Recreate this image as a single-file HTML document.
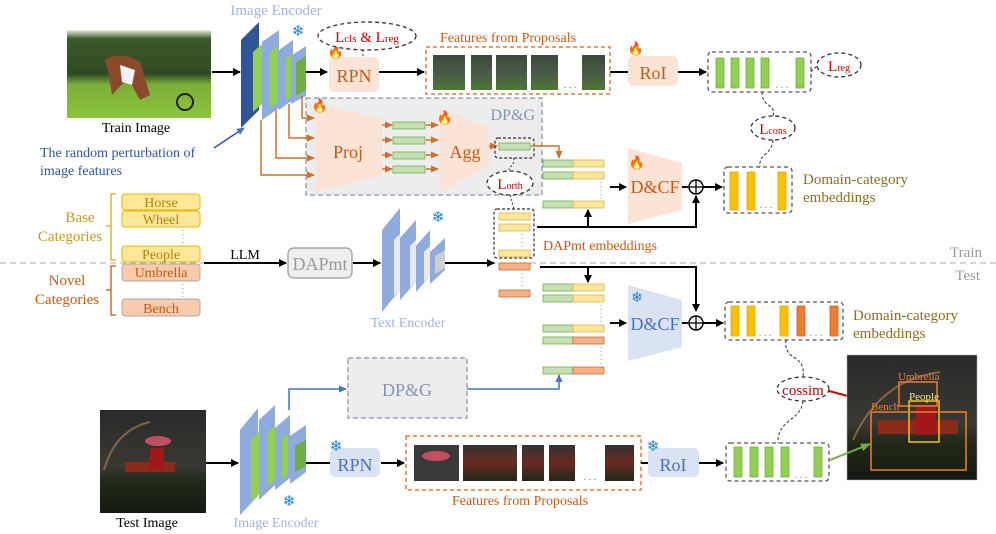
<!DOCTYPE html>
<html><head><meta charset="utf-8"><style>
html,body{margin:0;padding:0;background:#fff}
svg{display:block}
text{font-family:"Liberation Serif",serif}
</style></head><body>
<svg width="996" height="534" viewBox="0 0 996 534" xmlns="http://www.w3.org/2000/svg">
<defs>
<marker id="ab" markerWidth="8" markerHeight="8" refX="7" refY="4" orient="auto" markerUnits="userSpaceOnUse"><path d="M0,0 L8,4 L0,8 Z" fill="#000"/></marker>
<marker id="ao" markerWidth="8" markerHeight="7" refX="7" refY="3.5" orient="auto" markerUnits="userSpaceOnUse"><path d="M0,0 L8,3.5 L0,7 Z" fill="#d0702a"/></marker>
<marker id="abl" markerWidth="8" markerHeight="7" refX="7" refY="3.5" orient="auto" markerUnits="userSpaceOnUse"><path d="M0,0 L8,3.5 L0,7 Z" fill="#4472c4"/></marker>
<marker id="ar" markerWidth="10" markerHeight="8" refX="9" refY="4" orient="auto" markerUnits="userSpaceOnUse"><path d="M0,0 L10,4 L0,8 Z" fill="#d00000"/></marker>
<marker id="ag" markerWidth="10" markerHeight="8" refX="9" refY="4" orient="auto" markerUnits="userSpaceOnUse"><path d="M0,0 L10,4 L0,8 Z" fill="#70ad47"/></marker>
<linearGradient id="train" x1="0" y1="0" x2="0" y2="1"><stop offset="0" stop-color="#e8f0e0"/><stop offset="0.1" stop-color="#3c5a2a"/><stop offset="0.5" stop-color="#2f4a22"/><stop offset="0.62" stop-color="#7cae3a"/><stop offset="1" stop-color="#8cc43c"/></linearGradient>
<linearGradient id="test" x1="0" y1="0" x2="0" y2="1"><stop offset="0" stop-color="#2a2a2a"/><stop offset="0.55" stop-color="#3a3832"/><stop offset="0.7" stop-color="#1f2a18"/><stop offset="1" stop-color="#141a10"/></linearGradient>
<linearGradient id="thumb1" x1="0" y1="0" x2="0" y2="1"><stop offset="0" stop-color="#3a4a3a"/><stop offset="0.6" stop-color="#4b5e48"/><stop offset="1" stop-color="#4c7a30"/></linearGradient>
<linearGradient id="thumb2" x1="0" y1="0" x2="0" y2="1"><stop offset="0" stop-color="#333"/><stop offset="0.5" stop-color="#6a2a20"/><stop offset="1" stop-color="#202818"/></linearGradient>
</defs>

<!-- ============ TOP: TRAIN ============ -->
<rect x="67" y="30" width="144" height="88" fill="url(#train)"/>
<path d="M105,60 Q120,50 140,62 L150,95 L140,100 L128,78 L112,95 L108,70 Z" fill="#8a4a2a"/>
<path d="M120,65 L135,70 L132,85 L122,82 Z" fill="#f2f2f2"/>
<circle cx="185" cy="102" r="8" fill="none" stroke="#222" stroke-width="2"/>
<text x="136" y="132" font-size="14" text-anchor="middle" fill="#000">Train Image</text>
<text x="40" y="157" font-size="14" fill="#2f55a0">The random perturbation of</text>
<text x="40" y="175" font-size="14" fill="#2f55a0">image features</text>
<line x1="214" y1="148" x2="244" y2="128" stroke="#2f55a0" stroke-width="1.5" marker-end="url(#abl)"/>

<line x1="212" y1="72" x2="240" y2="72" stroke="#000" stroke-width="2" marker-end="url(#ab)"/>
<!-- top image encoder -->
<text x="276" y="15" font-size="15" fill="#9fb3e0" text-anchor="middle">Image Encoder</text>
<polygon points="241,40 259,22 259,110 241,128" fill="#2f5597"/>
<polygon points="253,52 262,44 262,104 253,112" fill="#92d050"/>
<polygon points="262,42 279,30 279,108 262,120" fill="#8faadc"/>
<polygon points="270,52 278,46 278,102 270,108" fill="#92d050"/>
<polygon points="279,50 293,40 293,100 279,110" fill="#8faadc"/>
<polygon points="286,58 292,54 292,96 286,100" fill="#92d050"/>
<polygon points="291,56 306,46 306,96 291,104" fill="#8faadc"/>
<polygon points="296,62 306,56 306,90 296,96" fill="#70ad47"/>
<text x="298" y="36" font-size="15" fill="#1a7fd4" text-anchor="middle">❄</text>

<line x1="306" y1="72" x2="327" y2="72" stroke="#000" stroke-width="2" marker-end="url(#ab)"/>
<rect x="329" y="57" width="50" height="35" rx="5" fill="#fbe3d6"/>
<text x="354" y="82" font-size="18" fill="#c55a11" text-anchor="middle">RPN</text>
<text x="336" y="56" font-size="13" fill="#d00000" text-anchor="middle">🔥</text>
<ellipse cx="367" cy="36" rx="49" ry="14" fill="#fff" stroke="#333" stroke-dasharray="4,3" stroke-width="1.3"/>
<line x1="363" y1="50" x2="363" y2="56" stroke="#333" stroke-dasharray="2,2"/>
<text x="367" y="42" font-size="15" fill="#c00000" text-anchor="middle">L<tspan font-size="11">cls</tspan> &amp; L<tspan font-size="11">reg</tspan></text>
<line x1="379" y1="72" x2="424" y2="72" stroke="#000" stroke-width="2" marker-end="url(#ab)"/>

<text x="508" y="42" font-size="14" fill="#c55a11" text-anchor="middle">Features from Proposals</text>
<rect x="426" y="47" width="184" height="47" fill="none" stroke="#e07b39" stroke-dasharray="4,3" stroke-width="1.5"/>
<rect x="433" y="55" width="32" height="35" fill="url(#thumb1)"/>
<rect x="471" y="55" width="21" height="35" fill="url(#thumb1)"/>
<rect x="496" y="55" width="31" height="35" fill="url(#thumb1)"/>
<rect x="531" y="55" width="27" height="35" fill="url(#thumb1)"/>
<text x="570" y="88" font-size="10" fill="#777" text-anchor="middle">. . .</text>
<rect x="582" y="55" width="23" height="35" fill="url(#thumb1)"/>

<line x1="610" y1="72" x2="628" y2="72" stroke="#000" stroke-width="2"/>
<rect x="628" y="56" width="50" height="30" rx="5" fill="#fbe3d6"/>
<text x="653" y="79" font-size="18" fill="#c55a11" text-anchor="middle">RoI</text>
<text x="636" y="53" font-size="13" fill="#d00000" text-anchor="middle">🔥</text>
<line x1="678" y1="72" x2="706" y2="72" stroke="#000" stroke-width="2" marker-end="url(#ab)"/>

<rect x="708" y="52" width="103" height="40" rx="4" fill="none" stroke="#555" stroke-dasharray="4,3" stroke-width="1.3"/>
<g fill="#92d050" stroke="#70ad47" stroke-width="0.8">
<rect x="716" y="58" width="8" height="30"/><rect x="731" y="58" width="8" height="30"/><rect x="746" y="58" width="8" height="30"/><rect x="761" y="58" width="8" height="30"/><rect x="796" y="58" width="8" height="30"/>
</g>
<text x="782" y="88" font-size="10" fill="#888" text-anchor="middle">. . .</text>
<path d="M811,72 Q815,66 822,65" fill="none" stroke="#333" stroke-dasharray="3,2"/>
<ellipse cx="839" cy="65" rx="22" ry="12" fill="#fff" stroke="#333" stroke-dasharray="4,3" stroke-width="1.3"/>
<text x="839" y="71" font-size="15" fill="#c00000" text-anchor="middle">L<tspan font-size="10">reg</tspan></text>
<path d="M762,92 Q762,102 770,106 Q775,110 773,116" fill="none" stroke="#333" stroke-dasharray="3,2"/>
<ellipse cx="773" cy="128" rx="22" ry="12" fill="#fff" stroke="#333" stroke-dasharray="4,3" stroke-width="1.3"/>
<text x="773" y="134" font-size="15" fill="#c00000" text-anchor="middle">L<tspan font-size="10">cons</tspan></text>
<path d="M773,140 Q772,150 764,155 Q759,160 760,167" fill="none" stroke="#333" stroke-dasharray="3,2"/>

<rect x="724" y="167" width="68" height="46" rx="4" fill="none" stroke="#555" stroke-dasharray="4,3" stroke-width="1.3"/>
<g fill="#ffc000" stroke="#e0a800" stroke-width="0.8">
<rect x="730" y="172" width="8" height="38"/><rect x="747" y="172" width="8" height="38"/><rect x="778" y="172" width="8" height="38"/>
</g>
<text x="766" y="208" font-size="10" fill="#888" text-anchor="middle">. . .</text>
<text x="803" y="184" font-size="15" fill="#8c6d1f">Domain-category</text>
<text x="803" y="202" font-size="15" fill="#8c6d1f">embeddings</text>

<!-- DP&G top -->
<rect x="306" y="98" width="236" height="97" fill="#ededed" stroke="#8497b0" stroke-dasharray="5,3" stroke-width="1.3"/>
<text x="535" y="120" font-size="16" fill="#8497b0" text-anchor="end">DP&amp;G</text>
<polygon points="316,104 382,118 382,175 316,192" fill="#fbe3d6"/>
<text x="348" y="158" font-size="18" fill="#c55a11" text-anchor="middle">Proj</text>
<text x="320" y="110" font-size="13" fill="#d00000" text-anchor="middle">🔥</text>
<g fill="none" stroke="#d0702a" stroke-width="1.5">
<path d="M302,96 V118 H314" marker-end="url(#ao)"/>
<path d="M289,104 V138 H314" marker-end="url(#ao)"/>
<path d="M276,110 V158 H314" marker-end="url(#ao)"/>
<path d="M261,120 V175 H314" marker-end="url(#ao)"/>
</g>
<g stroke="#d0702a" stroke-width="1.5">
<line x1="382" y1="125" x2="392" y2="125" marker-end="url(#ao)"/>
<line x1="382" y1="140" x2="392" y2="140" marker-end="url(#ao)"/>
<line x1="382" y1="155" x2="392" y2="155" marker-end="url(#ao)"/>
<line x1="382" y1="169" x2="392" y2="169" marker-end="url(#ao)"/>
<line x1="426" y1="125" x2="438" y2="125" marker-end="url(#ao)"/>
<line x1="426" y1="140" x2="438" y2="140" marker-end="url(#ao)"/>
<line x1="426" y1="155" x2="438" y2="155" marker-end="url(#ao)"/>
<line x1="426" y1="169" x2="438" y2="169" marker-end="url(#ao)"/>
</g>
<g fill="#c5e0b4" stroke="#70ad47" stroke-width="0.8">
<rect x="393" y="122" width="32" height="7"/><rect x="393" y="137" width="32" height="7"/><rect x="393" y="152" width="32" height="7"/><rect x="393" y="166" width="32" height="7"/>
</g>
<polygon points="440,109 489,127 489,165 440,193" fill="#fbe3d6"/>
<text x="465" y="158" font-size="18" fill="#c55a11" text-anchor="middle">Agg</text>
<text x="445" y="122" font-size="13" fill="#d00000" text-anchor="middle">🔥</text>
<line x1="489" y1="146" x2="497" y2="146" stroke="#d0702a" stroke-width="1.5" marker-end="url(#ao)"/>
<rect x="495" y="138" width="39" height="20" rx="3" fill="none" stroke="#333" stroke-dasharray="3,2" stroke-width="1.2"/>
<rect x="499" y="143" width="31" height="7" fill="#c5e0b4" stroke="#70ad47" stroke-width="0.8"/>
<path d="M531,146 H559 V158" fill="none" stroke="#d0702a" stroke-width="1.5" marker-end="url(#ao)"/>
<path d="M514,158 Q514,165 510,167 Q508,169 510,171" fill="none" stroke="#333" stroke-dasharray="2,2"/>
<ellipse cx="510" cy="183" rx="23" ry="12" fill="#fff" stroke="#333" stroke-dasharray="4,3" stroke-width="1.3"/>
<text x="510" y="189" font-size="15" fill="#c00000" text-anchor="middle">L<tspan font-size="10">orth</tspan></text>
<path d="M510,195 Q512,202 514,209" fill="none" stroke="#333" stroke-dasharray="2,2"/>

<!-- concat bars top -->
<g stroke-width="0.8">
<rect x="543" y="160" width="30" height="7" fill="#c5e0b4" stroke="#70ad47"/><rect x="573" y="160" width="31" height="7" fill="#ffe699" stroke="#d6b656"/>
<rect x="543" y="172" width="30" height="7" fill="#c5e0b4" stroke="#70ad47"/><rect x="573" y="172" width="31" height="7" fill="#ffe699" stroke="#d6b656"/>
<rect x="543" y="201" width="30" height="7" fill="#c5e0b4" stroke="#70ad47"/><rect x="573" y="201" width="31" height="7" fill="#ffe699" stroke="#d6b656"/>
</g>
<line x1="601" y1="182" x2="601" y2="199" stroke="#999" stroke-dasharray="1,3"/>
<line x1="610" y1="187" x2="626" y2="187" stroke="#000" stroke-width="2" marker-end="url(#ab)"/>
<polygon points="628,148 682,163 682,210 628,224" fill="#fbe3d6"/>
<text x="655" y="193" font-size="18" fill="#c55a11" text-anchor="middle">D&amp;CF</text>
<text x="637" y="167" font-size="13" fill="#d00000" text-anchor="middle">🔥</text>
<line x1="682" y1="187" x2="688" y2="187" stroke="#000" stroke-width="2"/>
<circle cx="696" cy="187" r="7" fill="#fff" stroke="#000" stroke-width="1.5"/>
<line x1="689" y1="187" x2="703" y2="187" stroke="#000" stroke-width="1.3"/><line x1="696" y1="180" x2="696" y2="194" stroke="#000" stroke-width="1.3"/>
<line x1="703" y1="187" x2="722" y2="187" stroke="#000" stroke-width="2" marker-end="url(#ab)"/>

<!-- DAPmt embeddings -->
<rect x="494" y="209" width="40" height="49" rx="3" fill="none" stroke="#333" stroke-dasharray="3,2" stroke-width="1.2"/>
<g fill="#ffe699" stroke="#d6b656" stroke-width="0.8">
<rect x="499" y="213" width="31" height="7"/><rect x="499" y="224" width="31" height="7"/><rect x="499" y="250" width="31" height="7"/>
</g>
<line x1="522" y1="234" x2="522" y2="248" stroke="#999" stroke-dasharray="1,3"/>
<text x="543" y="250" font-size="14" fill="#c55a11">DAPmt embeddings</text>
<path d="M537,227 H696 V196" fill="none" stroke="#000" stroke-width="2" marker-end="url(#ab)"/>
<line x1="588" y1="227" x2="588" y2="210" stroke="#000" stroke-width="2" marker-end="url(#ab)"/>

<!-- Train/Test divider -->
<line x1="0" y1="263" x2="996" y2="263" stroke="#bbb" stroke-width="1.3" stroke-dasharray="6,4"/>
<text x="982" y="257" font-size="15" fill="#999" text-anchor="end">Train</text>
<text x="980" y="280" font-size="15" fill="#999" text-anchor="end">Test</text>

<!-- left categories -->
<text x="80" y="222" font-size="15" fill="#c49a1c" text-anchor="middle">Base</text>
<text x="70" y="241" font-size="15" fill="#c49a1c" text-anchor="middle">Categories</text>
<path d="M116,194 H111 V226 H106 M111,226 V260 H116" fill="none" stroke="#d4a82a" stroke-width="1.3"/>
<g stroke="#e6b800" stroke-width="1" fill="#ffe699">
<rect x="122" y="194" width="78" height="16" rx="3"/><rect x="122" y="211" width="78" height="16" rx="3"/><rect x="122" y="246" width="78" height="16" rx="3"/>
</g>
<text x="161" y="207" font-size="14" fill="#b08500" text-anchor="middle">Horse</text>
<text x="161" y="224" font-size="14" fill="#b08500" text-anchor="middle">Wheel</text>
<text x="161" y="259" font-size="14" fill="#b08500" text-anchor="middle">People</text>
<line x1="183" y1="230" x2="183" y2="244" stroke="#999" stroke-dasharray="1,3"/>
<text x="67" y="285" font-size="15" fill="#c55a11" text-anchor="middle">Novel</text>
<text x="67" y="304" font-size="15" fill="#c55a11" text-anchor="middle">Categories</text>
<path d="M116,266 H111 V290 H106 M111,290 V315 H116" fill="none" stroke="#c55a11" stroke-width="1.3"/>
<g stroke="#aaa" stroke-width="1" fill="#f8cbad">
<rect x="122" y="264" width="78" height="17" rx="3"/><rect x="122" y="299" width="78" height="17" rx="3"/>
</g>
<text x="161" y="277" font-size="14" fill="#c55a11" text-anchor="middle">Umbrella</text>
<text x="161" y="313" font-size="14" fill="#c55a11" text-anchor="middle">Bench</text>
<line x1="183" y1="284" x2="183" y2="297" stroke="#999" stroke-dasharray="1,3"/>

<text x="245" y="259" font-size="14" fill="#000" text-anchor="middle">LLM</text>
<line x1="204" y1="263" x2="286" y2="263" stroke="#000" stroke-width="2" marker-end="url(#ab)"/>
<rect x="288" y="248" width="64" height="30" rx="6" fill="#eee" stroke="#999" stroke-width="1.2"/>
<text x="320" y="270" font-size="18" fill="#999" text-anchor="middle">DAPmt</text>
<line x1="353" y1="263" x2="380" y2="263" stroke="#000" stroke-width="2" marker-end="url(#ab)"/>
<!-- text encoder -->
<polygon points="382,230 400,208 400,290 382,312" fill="#8faadc"/>
<polygon points="394,240 400,234 400,290 394,296" fill="#e8e8e8"/>
<polygon points="400,238 416,220 416,282 400,300" fill="#8faadc"/>
<polygon points="410,246 416,240 416,282 410,288" fill="#e8e8e8"/>
<polygon points="416,246 430,230 430,276 416,292" fill="#8faadc"/>
<polygon points="424,252 430,246 430,276 424,282" fill="#e8e8e8"/>
<polygon points="430,252 445,238 445,270 430,284" fill="#8faadc"/>
<polygon points="435,256 445,250 445,268 435,274" fill="#cfcfcf"/>
<text x="438" y="222" font-size="15" fill="#1a7fd4" text-anchor="middle">❄</text>
<text x="408" y="327" font-size="14" fill="#9fb3e0" text-anchor="middle">Text Encoder</text>
<line x1="445" y1="263" x2="494" y2="263" stroke="#000" stroke-width="2" marker-end="url(#ab)"/>

<!-- orange embeddings -->
<g fill="#f4b183" stroke="#c5703a" stroke-width="0.8">
<rect x="499" y="263" width="31" height="7"/><rect x="499" y="290" width="31" height="7"/>
</g>
<line x1="522" y1="273" x2="522" y2="288" stroke="#999" stroke-dasharray="1,3"/>
<path d="M540,267 H696 V311" fill="none" stroke="#000" stroke-width="2" marker-end="url(#ab)"/>
<line x1="588" y1="267" x2="588" y2="282" stroke="#000" stroke-width="2" marker-end="url(#ab)"/>

<!-- concat bars bottom -->
<g stroke-width="0.8">
<rect x="543" y="284" width="30" height="7" fill="#c5e0b4" stroke="#70ad47"/><rect x="573" y="284" width="31" height="7" fill="#ffe699" stroke="#d6b656"/>
<rect x="543" y="295" width="30" height="7" fill="#c5e0b4" stroke="#70ad47"/><rect x="573" y="295" width="31" height="7" fill="#ffe699" stroke="#d6b656"/>
<rect x="543" y="325" width="30" height="7" fill="#c5e0b4" stroke="#70ad47"/><rect x="573" y="325" width="31" height="7" fill="#ffe699" stroke="#d6b656"/>
<rect x="543" y="337" width="30" height="7" fill="#c5e0b4" stroke="#70ad47"/><rect x="573" y="337" width="31" height="7" fill="#f4b183" stroke="#c5703a"/>
<rect x="543" y="367" width="30" height="7" fill="#c5e0b4" stroke="#70ad47"/><rect x="573" y="367" width="31" height="7" fill="#f4b183" stroke="#c5703a"/>
</g>
<line x1="601" y1="305" x2="601" y2="322" stroke="#999" stroke-dasharray="1,3"/>
<line x1="601" y1="347" x2="601" y2="364" stroke="#999" stroke-dasharray="1,3"/>
<line x1="610" y1="323" x2="626" y2="323" stroke="#000" stroke-width="2" marker-end="url(#ab)"/>
<polygon points="628,285 682,300 682,347 628,361" fill="#dae3f3"/>
<text x="655" y="330" font-size="18" fill="#4472c4" text-anchor="middle">D&amp;CF</text>
<text x="637" y="302" font-size="14" fill="#1a7fd4" text-anchor="middle">❄</text>
<line x1="682" y1="323" x2="688" y2="323" stroke="#000" stroke-width="2"/>
<circle cx="696" cy="323" r="7" fill="#fff" stroke="#000" stroke-width="1.5"/>
<line x1="689" y1="323" x2="703" y2="323" stroke="#000" stroke-width="1.3"/><line x1="696" y1="316" x2="696" y2="330" stroke="#000" stroke-width="1.3"/>
<line x1="703" y1="323" x2="723" y2="323" stroke="#000" stroke-width="2" marker-end="url(#ab)"/>

<rect x="725" y="302" width="118" height="38" rx="4" fill="none" stroke="#555" stroke-dasharray="4,3" stroke-width="1.3"/>
<g stroke-width="0.8">
<rect x="731" y="306" width="8" height="30" fill="#ffc000" stroke="#e0a800"/><rect x="747" y="306" width="8" height="30" fill="#ffc000" stroke="#e0a800"/><rect x="780" y="306" width="8" height="30" fill="#ffc000" stroke="#e0a800"/>
<rect x="797" y="306" width="8" height="30" fill="#ed7d31" stroke="#c5602a"/><rect x="830" y="306" width="8" height="30" fill="#ed7d31" stroke="#c5602a"/>
</g>
<text x="765" y="336" font-size="10" fill="#888" text-anchor="middle">. . .</text>
<text x="816" y="336" font-size="10" fill="#888" text-anchor="middle">. . .</text>
<text x="853" y="320" font-size="15" fill="#8c6d1f">Domain-category</text>
<text x="853" y="338" font-size="15" fill="#8c6d1f">embeddings</text>
<path d="M786,340 Q784,352 795,358 Q805,364 803,377" fill="none" stroke="#333" stroke-dasharray="3,2"/>
<ellipse cx="803" cy="389" rx="26" ry="12" fill="#fff" stroke="#333" stroke-dasharray="4,3" stroke-width="1.3"/>
<text x="803" y="395" font-size="15" fill="#c00000" text-anchor="middle">cossim</text>
<path d="M803,401 Q802,412 790,420 Q777,430 778,443" fill="none" stroke="#333" stroke-dasharray="3,2"/>
<line x1="829" y1="391" x2="870" y2="402" stroke="#d00000" stroke-width="2" marker-end="url(#ar)"/>

<!-- output test image -->
<rect x="847" y="355" width="130" height="125" fill="url(#test)" stroke="#aaa" stroke-width="0.5"/>
<path d="M853,440 Q880,380 940,372" fill="none" stroke="#b08a50" stroke-width="2" opacity="0.6"/>
<rect x="878" y="420" width="80" height="14" fill="#8a2a1a"/>
<rect x="916" y="405" width="20" height="30" fill="#a01818"/>
<rect x="899" y="382" width="38" height="24" fill="none" stroke="#ed7d31" stroke-width="1.5"/>
<text x="898" y="380" font-size="11" fill="#ed7d31">Umbrella</text>
<rect x="909" y="401" width="30" height="41" fill="none" stroke="#ffc000" stroke-width="1.5"/>
<text x="909" y="400" font-size="11" fill="#ffe699">People</text>
<rect x="871" y="412" width="95" height="58" fill="none" stroke="#ed7d31" stroke-width="1.5"/>
<text x="871" y="410" font-size="11" fill="#ed7d31">Bench</text>

<!-- bottom green box -->
<rect x="726" y="443" width="103" height="38" rx="4" fill="none" stroke="#555" stroke-dasharray="4,3" stroke-width="1.3"/>
<g fill="#92d050" stroke="#70ad47" stroke-width="0.8">
<rect x="734" y="447" width="8" height="30"/><rect x="750" y="447" width="8" height="30"/><rect x="765" y="447" width="8" height="30"/><rect x="781" y="447" width="8" height="30"/><rect x="814" y="447" width="8" height="30"/>
</g>
<text x="801" y="478" font-size="10" fill="#888" text-anchor="middle">. . .</text>
<line x1="830" y1="460" x2="870" y2="444" stroke="#70ad47" stroke-width="2" marker-end="url(#ag)"/>

<!-- bottom DP&G -->
<rect x="348" y="358" width="119" height="60" fill="#ededed" stroke="#8497b0" stroke-dasharray="5,3" stroke-width="1.3"/>
<text x="407" y="396" font-size="18" fill="#8497b0" text-anchor="middle">DP&amp;G</text>
<path d="M289,410 V389 H346" fill="none" stroke="#4472c4" stroke-width="1.5" marker-end="url(#abl)"/>
<path d="M467,389 H559 V375" fill="none" stroke="#4472c4" stroke-width="1.5" marker-end="url(#abl)"/>

<!-- test image -->
<rect x="100" y="410" width="106" height="103" fill="url(#test)"/>
<path d="M104,470 Q115,430 150,422" fill="none" stroke="#b08a50" stroke-width="2" opacity="0.6"/>
<ellipse cx="158" cy="441" rx="13" ry="5" fill="#c05060"/>
<rect x="125" y="462" width="50" height="10" fill="#8a2a1a"/>
<rect x="150" y="448" width="14" height="22" fill="#a01818"/>
<text x="147" y="527" font-size="14" fill="#000" text-anchor="middle">Test Image</text>
<line x1="206" y1="463" x2="238" y2="463" stroke="#000" stroke-width="2" marker-end="url(#ab)"/>

<!-- bottom image encoder -->
<polygon points="240,430 258,408 258,496 240,515" fill="#8faadc"/>
<polygon points="251,440 259,432 259,494 251,502" fill="#92d050"/>
<polygon points="259,420 275,405 275,485 259,500" fill="#8faadc"/>
<polygon points="268,432 275,426 275,480 268,486" fill="#92d050"/>
<polygon points="275,428 290,415 290,478 275,490" fill="#8faadc"/>
<polygon points="282,438 288,434 288,474 282,478" fill="#92d050"/>
<polygon points="290,436 306,425 306,472 290,484" fill="#8faadc"/>
<polygon points="295,446 306,440 306,466 295,472" fill="#70ad47"/>
<text x="289" y="506" font-size="15" fill="#1a7fd4" text-anchor="middle">❄</text>
<text x="276" y="527" font-size="14" fill="#9fb3e0" text-anchor="middle">Image Encoder</text>
<line x1="306" y1="463" x2="330" y2="463" stroke="#000" stroke-width="2"/>
<rect x="330" y="448" width="50" height="29" rx="5" fill="#dae3f3"/>
<text x="355" y="471" font-size="18" fill="#4472c4" text-anchor="middle">RPN</text>
<text x="336" y="451" font-size="15" fill="#1a7fd4" text-anchor="middle">❄</text>
<line x1="381" y1="463" x2="404" y2="463" stroke="#000" stroke-width="2" marker-end="url(#ab)"/>

<rect x="406" y="436" width="235" height="54" fill="none" stroke="#e07b39" stroke-dasharray="4,3" stroke-width="1.5"/>
<rect x="414" y="445" width="45" height="36" fill="#3a3a3a"/>
<ellipse cx="436" cy="456" rx="14" ry="5" fill="#c05060"/>
<rect x="463" y="445" width="54" height="36" fill="url(#thumb2)"/>
<rect x="522" y="445" width="22" height="36" fill="url(#thumb2)"/>
<rect x="549" y="445" width="26" height="36" fill="url(#thumb2)"/>
<text x="590" y="480" font-size="10" fill="#777" text-anchor="middle">. . .</text>
<rect x="605" y="445" width="29" height="36" fill="url(#thumb2)"/>
<text x="520" y="505" font-size="14" fill="#c55a11" text-anchor="middle">Features from Proposals</text>
<line x1="641" y1="463" x2="648" y2="463" stroke="#000" stroke-width="2"/>
<rect x="648" y="448" width="51" height="29" rx="5" fill="#dae3f3"/>
<text x="673" y="471" font-size="18" fill="#4472c4" text-anchor="middle">RoI</text>
<text x="653" y="451" font-size="15" fill="#1a7fd4" text-anchor="middle">❄</text>
<line x1="699" y1="463" x2="723" y2="463" stroke="#000" stroke-width="2" marker-end="url(#ab)"/>
</svg>
</body></html>
